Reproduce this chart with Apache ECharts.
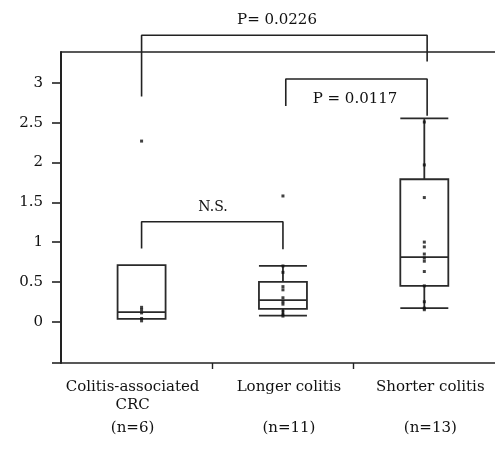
<!DOCTYPE html>
<html>
<head>
<meta charset="utf-8">
<script src="https://cdn.jsdelivr.net/npm/echarts@6/dist/echarts.min.js"></script>
<style>html,body{margin:0;padding:0;background:#fff}#c{width:495px;height:455px}</style>
</head>
<body>
<div id="c"></div>
<script>
// ---- data ----
var groupNames = ['Colitis-associated\nCRC', 'Longer colitis', 'Shorter colitis'];
var groupN = ['(n=6)', '(n=11)', '(n=13)'];
var groupX = [1, 2, 3];
// [min, Q1, median, Q3, max]
var boxStats = [
  [0.034, 0.034, 0.12, 0.71, 0.71],
  [0.075, 0.16, 0.27, 0.50, 0.70],
  [0.17, 0.45, 0.81, 1.79, 2.555]
];
var pointsCRC = [2.27, 0.18, 0.15, 0.11, 0.04, 0.01];
var pointsLonger = [1.58, 0.70, 0.62, 0.44, 0.40, 0.30, 0.25, 0.22, 0.13, 0.09, 0.07];
var pointsShorter = [2.51, 1.97, 1.56, 1.00, 0.94, 0.85, 0.80, 0.76, 0.63, 0.45, 0.25, 0.17, 0.15];
var yLabelValues = [0, 0.5, 1, 1.5, 2, 2.5, 3];
var yTickValues = [-0.52, 0, 0.5, 1, 1.5, 2, 2.5, 3];
// significance brackets: [[x,y],...]
var bracketAll = [[1, 2.83], [1, 3.60], [3.02, 3.60], [3.02, 3.27]];
var bracketLS = [[2.02, 2.71], [2.02, 3.05], [3.02, 3.05], [3.02, 2.59]];
var bracketNS = [[1, 0.92], [1, 1.256], [2, 1.256], [2, 0.91]];
var bracketTexts = ['P= 0.0226', 'P = 0.0117', 'N.S.'];

var allPoints = [pointsCRC, pointsLonger, pointsShorter];
var scatterData = [];
allPoints.forEach(function (arr, i) {
  arr.forEach(function (v) { scatterData.push([groupX[i], v]); });
});

var FONT = 'DejaVu Serif';
var LC = '#222';
var TC = '#111';
var FS = 15;
var labelShift = [[0, 18, 0, 0], [0, 0, 0, 12], [0, 0, 0, 12]];
var rich = {};
labelShift.forEach(function (p, i) {
  rich['a' + i] = { fontFamily: FONT, fontSize: FS, lineHeight: 18, color: TC, padding: p };
  rich['b' + i] = { fontFamily: FONT, fontSize: FS, lineHeight: 28, color: TC, padding: p };
});
var chart = echarts.init(document.getElementById('c'));
function bracketSeries(d) {
  return {
    type: 'line', data: d, symbol: 'none', clip: false, silent: true,
    lineStyle: { color: LC, width: 1.6 }, z: 5
  };
}
chart.setOption({
  animation: false,
  grid: { left: 61, right: 0, top: 52, bottom: 92 },
  xAxis: [{
    type: 'value', min: 0.43, max: 3.5, position: 'bottom',
    splitLine: { show: false },
    axisLine: { onZero: false, lineStyle: { color: LC, width: 1.6 } },
    axisTick: { customValues: [1.5, 2.5], length: 6, lineStyle: { color: LC, width: 1.4 } },
    axisLabel: {
      customValues: groupX, margin: 15, color: TC, fontFamily: FONT,
      formatter: function (v) {
        var i = groupX.indexOf(v);
        var parts = groupNames[i].split('\n');
        var l2 = parts[1] || ' ';
        return '{a' + i + '|' + parts[0] + '}\n{a' + i + '|' + l2 + '}\n{b' + i + '|' + groupN[i] + '}';
      },
      rich: rich
    }
  }, {
    type: 'value', min: 0.43, max: 3.5, position: 'top',
    splitLine: { show: false }, axisTick: { show: false }, axisLabel: { show: false },
    axisLine: { onZero: false, lineStyle: { color: LC, width: 1.6 } }
  }],
  yAxis: {
    type: 'value', min: -0.52, max: 3.39,
    splitLine: { show: false },
    axisLine: { show: true, onZero: false, lineStyle: { color: LC, width: 2 } },
    axisTick: { show: true, customValues: yTickValues, length: 9, lineStyle: { color: LC, width: 1.6 } },
    axisLabel: { customValues: yLabelValues, margin: 18, color: TC, fontFamily: FONT, fontSize: FS }
  },
  series: [{
    type: 'boxplot',
    data: boxStats.map(function (s, i) { return [groupX[i]].concat(s); }),
    boxWidth: [48, 48],
    itemStyle: { color: 'rgba(0,0,0,0)', borderColor: '#2a2a2a', borderWidth: 1.8 },
    silent: true, z: 2
  }, {
    type: 'scatter', data: scatterData, symbol: 'rect', symbolSize: [3, 3],
    itemStyle: { color: '#111' }, silent: true, z: 4
  },
  bracketSeries(bracketAll), bracketSeries(bracketLS), bracketSeries(bracketNS)
  ],
  graphic: [
    { type: 'text', x: 277, y: 20, style: { text: bracketTexts[0], font: FS + 'px "' + FONT + '"', fill: TC, align: 'center', verticalAlign: 'middle' } },
    { type: 'text', x: 355, y: 99, style: { text: bracketTexts[1], font: FS + 'px "' + FONT + '"', fill: TC, align: 'center', verticalAlign: 'middle' } },
    { type: 'text', x: 213, y: 207, style: { text: bracketTexts[2], font: '14px "' + FONT + '"', fill: TC, align: 'center', verticalAlign: 'middle' } }
  ]
});
</script>
</body>
</html>
